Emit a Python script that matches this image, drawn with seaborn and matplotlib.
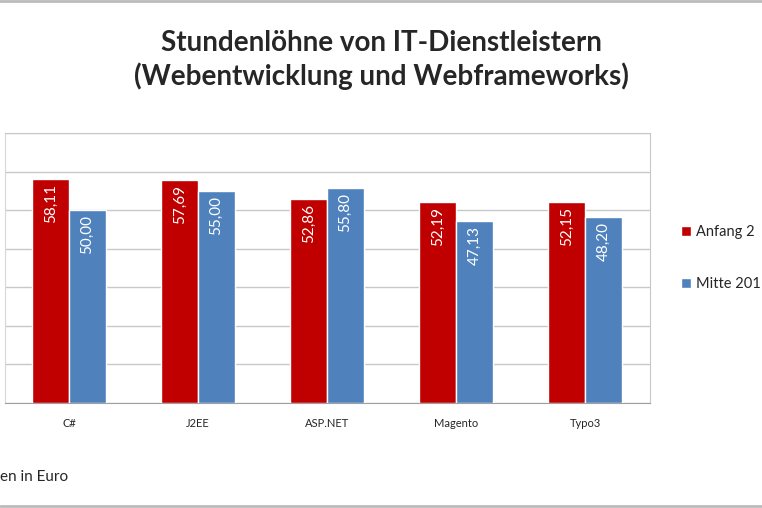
import pandas as pd
import matplotlib.pyplot as plt
import seaborn as sns

# Chart data
categories = ["C#", "J2EE", "ASP.NET", "Magento", "Typo3"]
# legend / footnote texts as far as they are visible in the (cropped) original
series = ["Anfang 2", "Mitte 201"]
anfang = [58.11, 57.69, 52.86, 52.19, 52.15]
mitte = [50.00, 55.00, 55.80, 47.13, 48.20]

title = "Stundenlöhne von IT-Dienstleistern\n(Webentwicklung und Webframeworks)"
footnote = "en in Euro"

df = pd.DataFrame({
    "Kategorie": categories * 2,
    "Reihe": [series[0]] * 5 + [series[1]] * 5,
    "Wert": anfang + mitte,
})

sns.set_style("white")
plt.rcParams['font.family'] = ['Lato', 'DejaVu Sans']

fig = plt.figure(figsize=(7.62, 5.08), dpi=100)
ax = fig.add_axes([4.5 / 762, 105 / 508, 645 / 762, 270 / 508])

colors = ["#C00000", "#4F81BD"]
sns.barplot(data=df, x="Kategorie", y="Wert", hue="Reihe", palette=colors,
            width=0.571, saturation=1, ax=ax, legend=True, zorder=3)

# Data labels inside the bar ends, rotated
for cont in ax.containers:
    for bar, v in zip(cont.patches, cont.datavalues):
        x = bar.get_x() + bar.get_width() / 2
        ax.text(x, v - 1.3, f"{v:.2f}".replace(".", ","), rotation=90,
                ha="center", va="top", color="white", fontsize=11, zorder=4)

ax.set_xlim(-0.5, 4.5)
ax.set_ylim(0, 70)
ax.set_yticks(range(0, 71, 10))
ax.set_yticklabels([])
ax.tick_params(axis="y", length=0)
ax.tick_params(axis="x", length=0, labelsize=8, pad=11)
ax.yaxis.grid(True, color="#C8C8C8", lw=1, zorder=0)
ax.set_axisbelow(True)
ax.set_xlabel("")
ax.set_ylabel("")
for s in ["top", "right"]:
    ax.spines[s].set_color("#C8C8C8")
ax.spines["left"].set_color("#D8D8D8")
ax.spines["bottom"].set_color("#A0A0A0")

leg = ax.legend(loc="center left", bbox_to_anchor=(668 / 762, 1 - 258 / 508),
                bbox_transform=fig.transFigure, frameon=False, fontsize=10.5,
                handlelength=0.65, handleheight=0.65, handletextpad=0.4,
                labelspacing=2.6)

fig.text(0.5, 1 - 60 / 508, title, ha="center", va="center", fontsize=20,
         fontweight="bold", linespacing=1.25)
fig.text(0, 1 - 477 / 508, footnote, ha="left", va="center", fontsize=11)

# Outer chart frame lines at top and bottom
fig.add_artist(plt.Line2D([0, 1], [1 - 1 / 508, 1 - 1 / 508], color="#BBBBBB", lw=2,
                          transform=fig.transFigure))
fig.add_artist(plt.Line2D([0, 1], [1 - 506 / 508, 1 - 506 / 508], color="#BBBBBB", lw=2,
                          transform=fig.transFigure))

fig.savefig("out.png", dpi=100, facecolor="white")
